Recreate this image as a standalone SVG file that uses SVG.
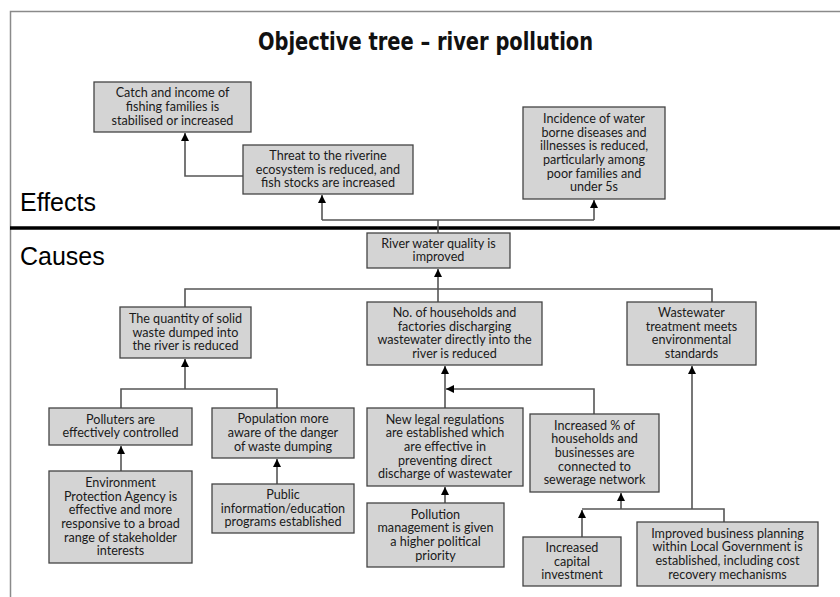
<svg xmlns="http://www.w3.org/2000/svg" width="840" height="597" viewBox="0 0 840 597">
<style>
.bg{fill:#ffffff}
.frame{stroke:#8a8a8a;stroke-width:1.5;fill:none}
.divider{stroke:#000;stroke-width:3.5;fill:none}
.title{font-family:"DejaVu Sans Condensed","Liberation Sans Narrow","Liberation Sans",sans-serif;font-stretch:condensed;font-weight:bold;font-size:24px;fill:#111}
.section{font-family:"Liberation Sans",Arial,sans-serif;font-size:25px;fill:#000}
.node rect{fill:#d4d4d4;stroke:#444;stroke-width:1.3}
.node text{font-family:Lato,"Liberation Sans",sans-serif;font-size:12.6px;fill:#1a1a1a;text-anchor:middle}
.conn path{stroke:#555;stroke-width:1.6;fill:none}
</style>
<defs>
<marker id="arr" markerUnits="userSpaceOnUse" markerWidth="10" markerHeight="9" refX="8" refY="4.5" orient="auto">
<path d="M0,0.5 L8,4.5 L0,8.5 z" fill="#000"/>
</marker>
</defs>
<rect class="bg" x="0" y="0" width="840" height="597"/>
<path class="frame" d="M10.5,597 V11.5 H840"/>
<path class="divider" d="M10,228 H840"/>
<text class="title" x="425.5" y="50" text-anchor="middle" textLength="335" lengthAdjust="spacingAndGlyphs">Objective tree – river pollution</text>
<text class="section" x="20" y="211">Effects</text>
<text class="section" x="20" y="265">Causes</text>

<g id="connectors" class="conn">
<path d="M243,176 H185 V133" marker-end="url(#arr)"/>
<path d="M438,233 V220"/>
<path d="M322,220 H594"/>
<path d="M322,220 V195" marker-end="url(#arr)"/>
<path d="M594,220 V200" marker-end="url(#arr)"/>
<path d="M438,289 V269" marker-end="url(#arr)"/>
<path d="M185,307 V289 H712 V302"/>
<path d="M438,289 V302"/>
<path d="M121,408 V389 H277 V408"/>
<path d="M185,389 V359" marker-end="url(#arr)"/>
<path d="M121,471 V446" marker-end="url(#arr)"/>
<path d="M277,484 V459" marker-end="url(#arr)"/>
<path d="M445,408 V366" marker-end="url(#arr)"/>
<path d="M594,414 V389 H446" marker-end="url(#arr)"/>
<path d="M445,503 V487" marker-end="url(#arr)"/>
<path d="M582,537 V510" marker-end="url(#arr)"/>
<path d="M582,509 H724 V522"/>
<path d="M621,509 V493" marker-end="url(#arr)"/>
<path d="M692,509 V366" marker-end="url(#arr)"/>
</g>

<g id="n1" class="node"><rect x="94" y="82" width="157" height="50"/>
<text x="172.5" y="97.3">Catch and income of</text><text x="172.5" y="111">fishing families is</text><text x="172.5" y="124.7">stabilised or increased</text></g>

<g id="n2" class="node"><rect x="243" y="145" width="170" height="49"/>
<text x="328" y="159.8">Threat to the riverine</text><text x="328" y="173.5">ecosystem is reduced, and</text><text x="328" y="187.2">fish stocks are increased</text></g>

<g id="n3" class="node"><rect x="523" y="107" width="142" height="92"/>
<text x="594" y="122.8">Incidence of water</text><text x="594" y="136.5">borne diseases and</text><text x="594" y="150.2">illnesses is reduced,</text><text x="594" y="163.9">particularly among</text><text x="594" y="177.6">poor families and</text><text x="594" y="191.3">under 5s</text></g>

<g id="n4" class="node"><rect x="367" y="233" width="143" height="35"/>
<text x="438.5" y="247.7">River water quality is</text><text x="438.5" y="261.4">improved</text></g>

<g id="n5" class="node"><rect x="120" y="307" width="131" height="51"/>
<text x="185.5" y="322.8">The quantity of solid</text><text x="185.5" y="336.5">waste dumped into</text><text x="185.5" y="350.2">the river is reduced</text></g>

<g id="n6" class="node"><rect x="367" y="302" width="175" height="63"/>
<text x="454.5" y="317">No. of households and</text><text x="454.5" y="330.7">factories discharging</text><text x="454.5" y="344.4">wastewater directly into the</text><text x="454.5" y="358.1">river is reduced</text></g>

<g id="n7" class="node"><rect x="627" y="302" width="129" height="63"/>
<text x="691.5" y="317">Wastewater</text><text x="691.5" y="330.7">treatment meets</text><text x="691.5" y="344.4">environmental</text><text x="691.5" y="358.1">standards</text></g>

<g id="n8" class="node"><rect x="49" y="408" width="143" height="37"/>
<text x="120.5" y="423.7">Polluters are</text><text x="120.5" y="437.4">effectively controlled</text></g>

<g id="n9" class="node"><rect x="212" y="408" width="142" height="50"/>
<text x="283" y="423.3">Population more</text><text x="283" y="437">aware of the danger</text><text x="283" y="450.7">of waste dumping</text></g>

<g id="n10" class="node"><rect x="49" y="471" width="143" height="92"/>
<text x="120.5" y="486.8">Environment</text><text x="120.5" y="500.5">Protection Agency is</text><text x="120.5" y="514.2">effective and more</text><text x="120.5" y="527.9">responsive to a broad</text><text x="120.5" y="541.6">range of stakeholder</text><text x="120.5" y="555.3">interests</text></g>

<g id="n11" class="node"><rect x="212" y="484" width="142" height="49"/>
<text x="283" y="498.8">Public</text><text x="283" y="512.5">information/education</text><text x="283" y="526.2">programs established</text></g>

<g id="n12" class="node"><rect x="367" y="408" width="156" height="78"/>
<text x="445" y="423.6">New legal regulations</text><text x="445" y="437.3">are established which</text><text x="445" y="451">are effective in</text><text x="445" y="464.7">preventing direct</text><text x="445" y="478.4">discharge of wastewater</text></g>

<g id="n13" class="node"><rect x="530" y="414" width="129" height="78"/>
<text x="594.5" y="429.6">Increased % of</text><text x="594.5" y="443.3">households and</text><text x="594.5" y="457">businesses are</text><text x="594.5" y="470.7">connected to</text><text x="594.5" y="484.4">sewerage network</text></g>

<g id="n14" class="node"><rect x="367" y="503" width="137" height="64"/>
<text x="435.5" y="518.5">Pollution</text><text x="435.5" y="532.2">management is given</text><text x="435.5" y="545.9">a higher political</text><text x="435.5" y="559.6">priority</text></g>

<g id="n15" class="node"><rect x="523" y="537" width="98" height="49"/>
<text x="572" y="551.8">Increased</text><text x="572" y="565.5">capital</text><text x="572" y="579.2">investment</text></g>

<g id="n16" class="node"><rect x="637" y="522" width="181" height="64"/>
<text x="727.5" y="537.5">Improved business planning</text><text x="727.5" y="551.2">within Local Government is</text><text x="727.5" y="564.9">established, including cost</text><text x="727.5" y="578.6">recovery mechanisms</text></g>
</svg>
